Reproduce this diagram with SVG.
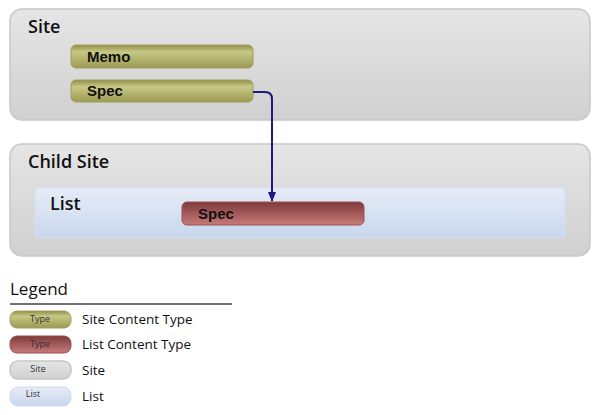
<svg xmlns="http://www.w3.org/2000/svg" width="600" height="415" viewBox="0 0 600 415">
<defs>
<linearGradient id="gGray" x1="0" y1="0" x2="0" y2="1"><stop offset="0" stop-color="#e5e5e5"/><stop offset="1" stop-color="#d0d0d0"/></linearGradient>
<linearGradient id="gBlue" x1="0" y1="0" x2="0" y2="1"><stop offset="0" stop-color="#e6ecf6"/><stop offset="1" stop-color="#c8d7ed"/></linearGradient>
<linearGradient id="gOlive" x1="0" y1="0" x2="0" y2="1"><stop offset="0" stop-color="#8e8e45"/><stop offset="0.3" stop-color="#c8c886"/><stop offset="1" stop-color="#9a9a52"/></linearGradient>
<linearGradient id="gRed" x1="0" y1="0" x2="0" y2="1"><stop offset="0" stop-color="#7e3a3a"/><stop offset="1" stop-color="#c87a7a"/></linearGradient>
<marker id="arr" markerWidth="10" markerHeight="8" refX="9" refY="4" orient="auto" markerUnits="userSpaceOnUse"><path d="M0,0 L10,4 L0,8 Z" fill="#1a1a80"/></marker>
</defs>
<style>
.container{fill:url(#gGray);stroke:#c6c6c6;stroke-width:1.5}
.list{fill:url(#gBlue);stroke:#d6e0ef;stroke-width:1}
.olive{fill:url(#gOlive);stroke:#a0a060;stroke-width:1}
.red{fill:url(#gRed);stroke:#9a5050;stroke-width:1}
.title{font-family:"Open Sans","DejaVu Sans",sans-serif;font-weight:600;font-size:18px;fill:#111}
.pill{font-family:"Liberation Sans",Arial,sans-serif;font-weight:bold;font-size:15px;fill:#111}
.leg{font-family:"Open Sans","DejaVu Sans",sans-serif;font-size:13.5px;fill:#111}
.leghead{font-family:"Open Sans","DejaVu Sans",sans-serif;font-size:17px;fill:#111}
.legsm{font-family:"Open Sans","DejaVu Sans",sans-serif;font-size:9px;fill:#333;text-anchor:middle}
.conn{fill:none;stroke:#1a1a80;stroke-width:2}
</style>
<rect width="600" height="415" fill="#fff"/>
<g id="site">
<rect class="container" x="10" y="9" width="580" height="111" rx="12"/>
<text class="title" x="28" y="33">Site</text>
</g>
<g id="memo">
<rect class="olive" x="71" y="45" width="182" height="23" rx="5"/>
<text class="pill" x="87" y="62">Memo</text>
</g>
<g id="spec-site">
<rect class="olive" x="71" y="80" width="182" height="22" rx="5"/>
<text class="pill" x="87" y="96">Spec</text>
</g>
<g id="child-site">
<rect class="container" x="10" y="144" width="580" height="112" rx="12"/>
<text class="title" x="28" y="168">Child Site</text>
</g>
<g id="list">
<rect class="list" x="35" y="188" width="530" height="50" rx="4"/>
<text class="title" x="50" y="210">List</text>
</g>
<g id="spec-list">
<rect class="red" x="182" y="202" width="182" height="23" rx="5"/>
<text class="pill" x="198" y="219">Spec</text>
</g>
<g id="connectors">
<path class="conn" d="M253,92 L265,92 Q272,92 272,99 L272,201" marker-end="url(#arr)"/>
</g>
<g id="legend">
<text class="leghead" x="10" y="295">Legend</text>
<line x1="10" y1="304" x2="232" y2="304" stroke="#444" stroke-width="1.5"/>
<rect class="olive" x="10" y="311" width="61" height="17" rx="7"/>
<text class="legsm" x="40" y="322">Type</text>
<text class="leg" x="82" y="324">Site Content Type</text>
<rect class="red" x="10" y="336" width="61" height="17" rx="7"/>
<text class="legsm" x="40" y="347">Type</text>
<text class="leg" x="82" y="349">List Content Type</text>
<rect class="container" x="10" y="361" width="61" height="18" rx="8" stroke-width="1"/>
<text class="legsm" x="38" y="372">Site</text>
<text class="leg" x="82" y="375">Site</text>
<rect fill="url(#gBlue)" stroke="#d0dbee" x="10" y="387" width="61" height="19" rx="8"/>
<text class="legsm" x="33" y="397">List</text>
<text class="leg" x="82" y="401">List</text>
</g>
</svg>
